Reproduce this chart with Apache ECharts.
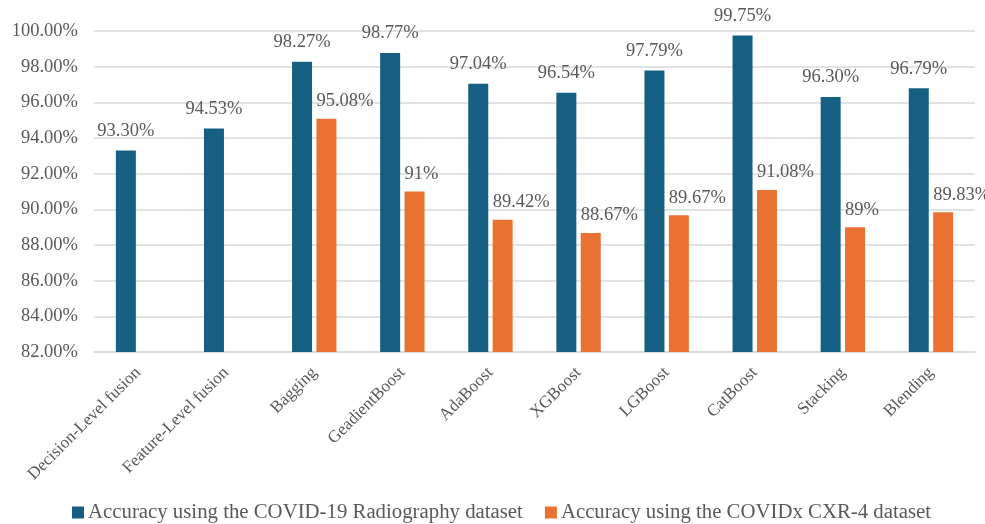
<!DOCTYPE html>
<html>
<head>
<meta charset="utf-8">
<script src="https://cdn.jsdelivr.net/npm/echarts@6/dist/echarts.min.js"></script>
<style>
  html, body { margin: 0; padding: 0; background: #ffffff; }
  #chart { width: 985px; height: 524px; }
</style>
</head>
<body>
<div id="chart"></div>
<script>
// Model names along the x axis
const categories = [
  'Decision-Level fusion', 'Feature-Level fusion', 'Bagging', 'GeadientBoost',
  'AdaBoost', 'XGBoost', 'LGBoost', 'CatBoost', 'Stacking', 'Blending'
];
// Accuracy (%) on each dataset; null where no result was reported
const radiographyAcc = [93.30, 94.53, 98.27, 98.77, 97.04, 96.54, 97.79, 99.75, 96.30, 96.79];
const cxr4Acc = [null, null, 95.08, 91, 89.42, 88.67, 89.67, 91.08, 89, 89.83];
const seriesNames = [
  'Accuracy using the COVID-19 Radiography dataset',
  'Accuracy using the COVIDx CXR-4 dataset'
];

const FONT = '"Liberation Serif", "Times New Roman", serif';
const TEXT = '#595959';

function pct(v) {
  return Number.isInteger(v) ? v + '%' : v.toFixed(2) + '%';
}

const chart = echarts.init(document.getElementById('chart'));
chart.setOption({
  animation: false,
  textStyle: { fontFamily: FONT },
  grid: { left: 94, right: 10, top: 31, bottom: 172 },
  legend: {
    bottom: -4,
    left: 67,
    itemWidth: 12,
    itemHeight: 12,
    itemGap: 22,
    icon: 'rect',
    textStyle: { fontFamily: FONT, fontSize: 20.8, color: TEXT, padding: [0, 0, 0, -1] }
  },
  xAxis: {
    type: 'category',
    data: categories,
    axisTick: { show: false },
    axisLine: { lineStyle: { color: '#d9d9d9', width: 1.5 } },
    axisLabel: {
      rotate: 45,
      interval: 0,
      margin: 18,
      fontFamily: FONT,
      fontSize: 17,
      color: TEXT
    }
  },
  yAxis: {
    type: 'value',
    min: 82,
    max: 100,
    interval: 2,
    axisLine: { show: false },
    axisTick: { show: false },
    splitLine: { lineStyle: { color: '#d9d9d9', width: 1.5 } },
    axisLabel: {
      formatter: v => v.toFixed(2) + '%',
      fontFamily: FONT,
      fontSize: 18.5,
      color: TEXT,
      margin: 16
    }
  },
  series: [
    {
      name: seriesNames[0],
      type: 'bar',
      data: radiographyAcc,
      barWidth: 20,
      barGap: '22%',
      itemStyle: { color: '#156082' },
      label: {
        show: true,
        position: 'top',
        distance: 10,
        formatter: p => pct(p.value),
        fontFamily: FONT,
        fontSize: 18.5,
        color: TEXT
      }
    },
    {
      name: seriesNames[1],
      type: 'bar',
      data: cxr4Acc,
      barWidth: 20,
      itemStyle: { color: '#e97132' },
      label: {
        show: true,
        position: 'top',
        distance: 8,
        align: 'left',
        offset: [-10, 0],
        formatter: p => pct(p.value),
        fontFamily: FONT,
        fontSize: 18.5,
        color: TEXT
      }
    }
  ]
});
</script>
</body>
</html>
